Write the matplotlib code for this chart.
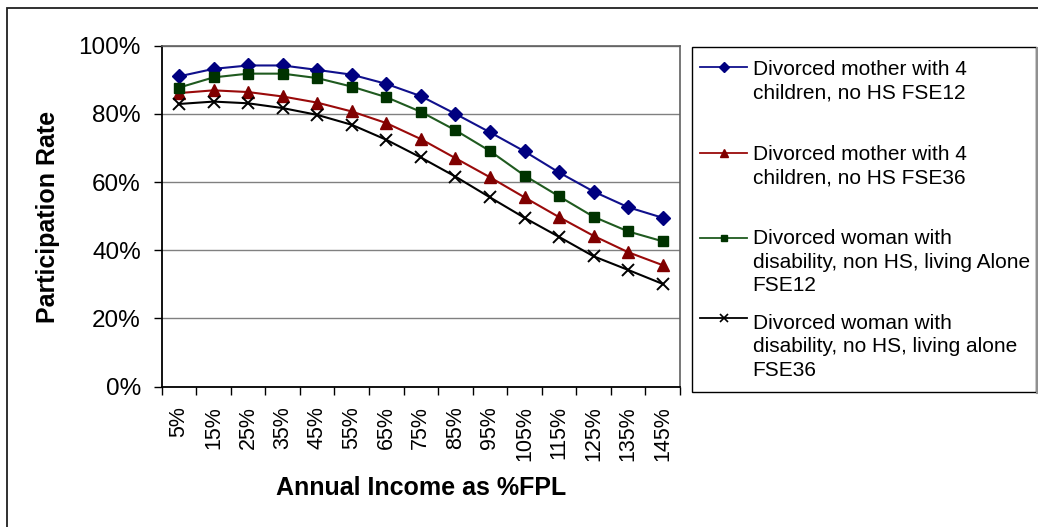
import matplotlib
matplotlib.use("Agg")
import matplotlib.pyplot as plt
from matplotlib.lines import Line2D
from matplotlib.patches import Rectangle
import numpy as np

plt.rcParams['font.family'] = ['Liberation Sans', 'DejaVu Sans']

W, H = 1038, 527

income_labels = ["5%", "15%", "25%", "35%", "45%", "55%", "65%", "75%",
                 "85%", "95%", "105%", "115%", "125%", "135%", "145%"]

mother_fse12 = [91.0, 93.2, 94.2, 94.2, 92.9, 91.5, 88.8, 85.2,
                80.0, 74.6, 69.0, 62.8, 57.2, 52.6, 49.5]
mother_fse36 = [86.1, 86.9, 86.4, 85.1, 83.3, 80.7, 77.3, 72.6,
                67.0, 61.4, 55.5, 49.7, 44.2, 39.4, 35.6]
woman_fse12 = [87.7, 90.7, 91.8, 91.8, 90.5, 88.0, 84.9, 80.6,
               75.2, 69.1, 61.9, 55.8, 49.8, 45.5, 42.6]
woman_fse36 = [82.9, 83.6, 83.1, 81.7, 79.7, 76.8, 72.4, 67.2,
               61.6, 55.5, 49.5, 43.9, 38.2, 34.2, 30.1]

series_names = [
    "Divorced mother with 4\nchildren, no HS FSE12",
    "Divorced mother with 4\nchildren, no HS FSE36",
    "Divorced woman with\ndisability, non HS, living Alone\nFSE12",
    "Divorced woman with\ndisability, no HS, living alone\nFSE36",
]
series_values = [mother_fse12, mother_fse36, woman_fse12, woman_fse36]

# line colour, marker, marker face colour, marker size
styles = [
    ("#10108c", "D", "#000080", 7.5),
    ("#9a0a0a", "^", "#800000", 9),
    ("#1f5a1f", "s", "#003300", 7.5),
    ("#000000", "x", "#000000", 9),
]


def fx(px):
    return px / W


def fy(py):
    return (H - py) / H


fig = plt.figure(figsize=(W / 100, H / 100), dpi=100)
fig.patch.set_facecolor("white")

# outer chart frame
fig.patches.append(Rectangle((fx(7), -0.1), 1.2, fy(8) + 0.1,
                             transform=fig.transFigure, fill=False,
                             edgecolor="#202020", linewidth=1.3))

ax = fig.add_axes([fx(161.7), fy(386.5), fx(680) - fx(161.7),
                   fy(45.7) - fy(386.5)])

x = np.arange(len(income_labels))
for vals, (lc, mk, mfc, ms) in zip(series_values, styles):
    if mk == "x":
        ax.plot(x, vals, color=lc, linewidth=1.5, marker=mk, markersize=ms,
                markeredgewidth=1.4, clip_on=False, zorder=3)
    else:
        ax.plot(x, vals, color=lc, linewidth=1.5, marker=mk, markersize=ms,
                markerfacecolor=mfc, markeredgecolor=mfc, clip_on=False,
                zorder=3)

ax.set_xlim(-0.5, len(income_labels) - 0.5)
ax.set_ylim(0, 100)

# category boundaries carry the tick marks, centres carry the labels
ax.set_xticks(np.arange(-0.5, len(income_labels)))
ax.set_xticklabels([])
ax.set_xticks(x, minor=True)
ax.set_xticklabels(income_labels, minor=True, rotation=90, fontsize=15.5,
                   va="top", ha="center")
ax.tick_params(axis="x", which="major", direction="out", length=6,
               width=1, color="black")
ax.tick_params(axis="x", which="minor", length=0, pad=14)

yticks = [0, 20, 40, 60, 80, 100]
ax.set_yticks(yticks)
ax.set_yticklabels([f"{v}%" for v in yticks], fontsize=17.5)
ax.tick_params(axis="y", direction="out", length=6, width=1, pad=9)

ax.grid(axis="y", color="#808080", linewidth=1)
ax.set_axisbelow(True)
for side in ["left", "bottom"]:
    ax.spines[side].set_color("black")
    ax.spines[side].set_linewidth(1.3)
for side in ["top", "right"]:
    ax.spines[side].set_color("#606060")
    ax.spines[side].set_linewidth(1.2)

fig.text(fx(48.3), fy(216.5), "Participation Rate", rotation=90,
         ha="center", va="center", fontsize=18, fontweight="bold")
fig.text(fx(421.5), fy(488), "Annual Income as %FPL",
         ha="center", va="center", fontsize=18, fontweight="bold")

# legend box drawn by hand so the handle sits on the first text line
fig.patches.append(Rectangle((fx(692), fy(392)), fx(1036) - fx(692),
                             fy(47) - fy(392), transform=fig.transFigure,
                             fill=False, edgecolor="black", linewidth=1))
fig.lines.append(Line2D([fx(1037), fx(1037)], [fy(48), fy(393)],
                        transform=fig.transFigure, color="#909090",
                        linewidth=1.5))

handle_y = [67, 153, 238, 318]
text_top = [60, 144.5, 229, 314]
for name, (lc, mk, mfc, ms), hy, ty in zip(series_names, styles,
                                          handle_y, text_top):
    fig.lines.append(Line2D([fx(700), fx(747)], [fy(hy), fy(hy)],
                            transform=fig.transFigure, color=lc,
                            linewidth=1.3))
    if mk == "x":
        fig.lines.append(Line2D([fx(723.5)], [fy(hy)],
                                transform=fig.transFigure, color=lc,
                                marker=mk, markersize=6, markeredgewidth=1.2,
                                linestyle="none"))
    else:
        fig.lines.append(Line2D([fx(723.5)], [fy(hy)],
                                transform=fig.transFigure, marker=mk,
                                markersize=ms * 0.65, markerfacecolor=mfc,
                                markeredgecolor=mfc, linestyle="none"))
    fig.text(fx(752.7), fy(ty), name, ha="left", va="top",
             fontsize=15, linespacing=1.3)

fig.savefig("out.png", dpi=100, facecolor="white")
